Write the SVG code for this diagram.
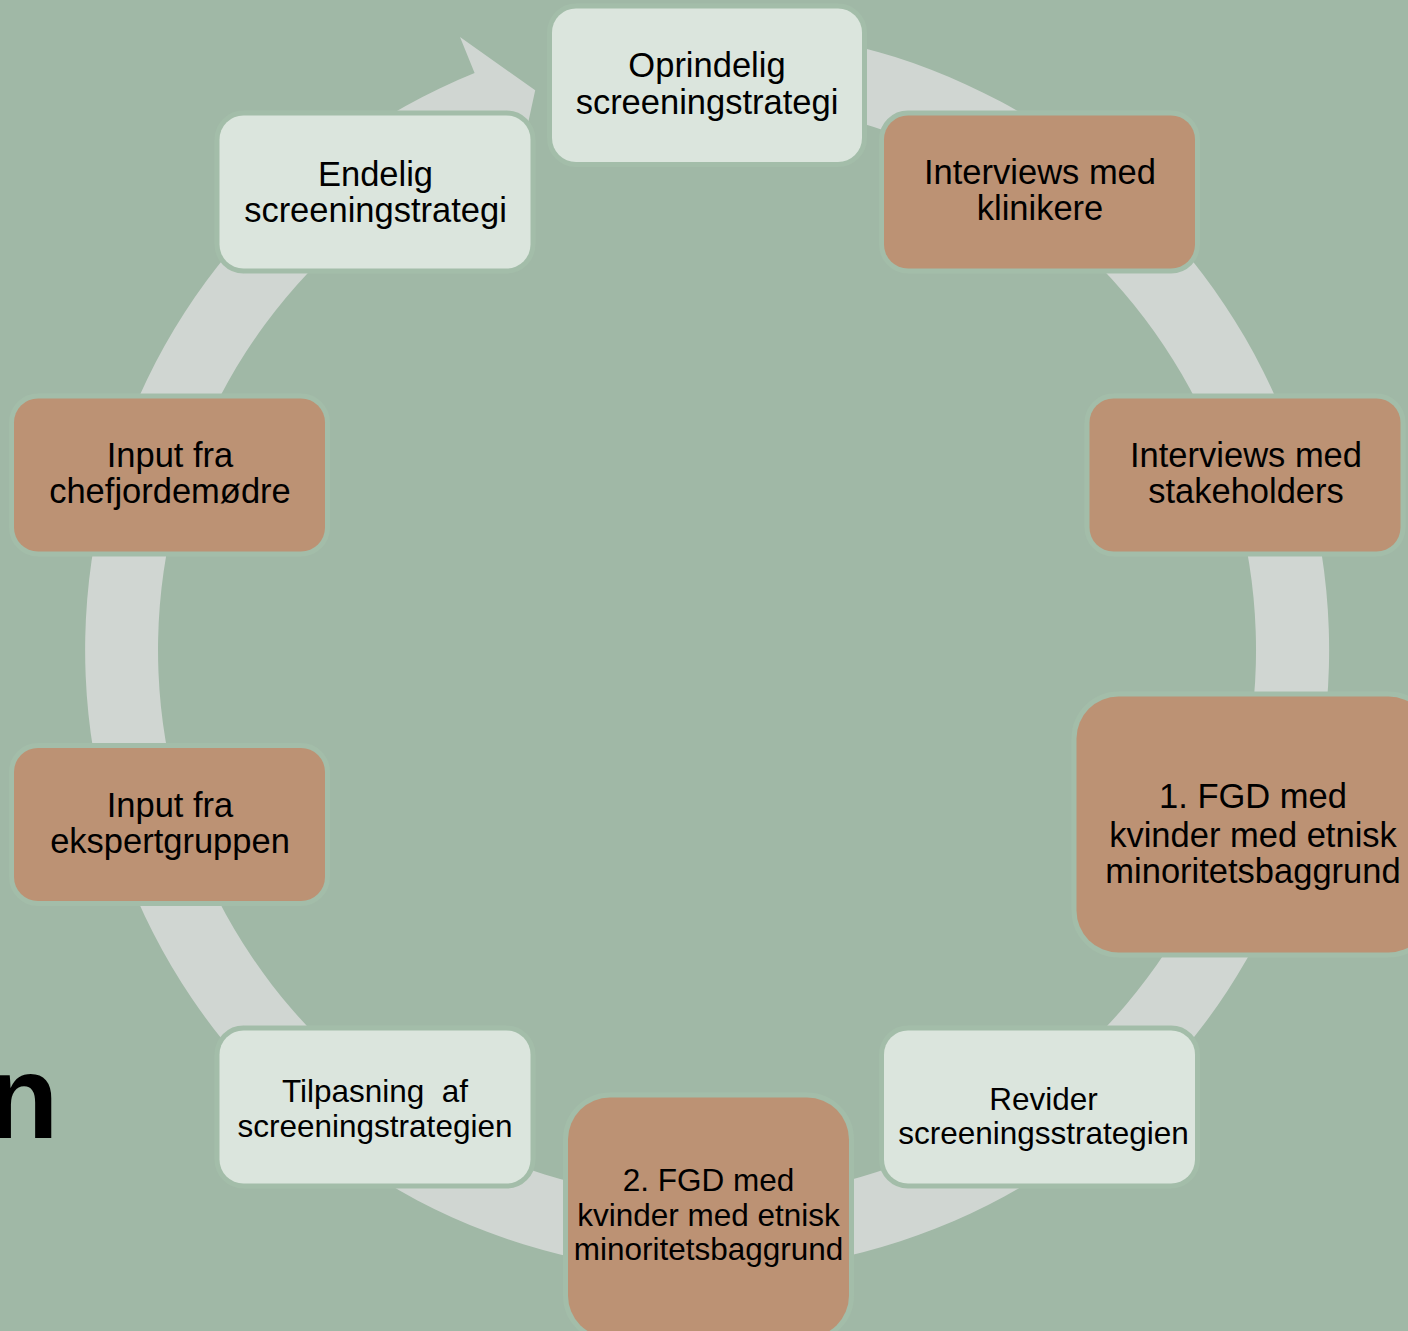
<svg xmlns="http://www.w3.org/2000/svg" width="1408" height="1331" viewBox="0 0 1408 1331">
<style>
.node rect{stroke:#A3BDA9;stroke-width:10;paint-order:stroke}
.light rect{fill:#DBE5DD}
.brown rect{fill:#BC9274}
text{font-family:"Liberation Sans",Arial,sans-serif;fill:#000;text-anchor:middle}
.t{font-size:34.5px}
.s{font-size:31.5px}
</style>
<rect x="0" y="0" width="1408" height="1331" fill="#A0B8A6"/>
<g id="connectors">
<path d="M 707 28 A 622 622 0 1 1 474.6 73.1 L 460 36.9 L 535.2 90.3 L 516.4 177 L 501.8 140.8 A 549 549 0 1 0 707 101 Z" fill="#D0D6D2"/>
</g>
<text x="58.5" y="1138" style="font-size:118px;font-weight:bold;text-anchor:end">n</text>
<g id="n1" class="node light">
<rect x="552" y="8.5" width="310" height="153.5" rx="24"/>
<text class="t" x="707" y="77">Oprindelig</text>
<text class="t" x="707" y="113.5">screeningstrategi</text>
</g>
<g id="n2" class="node brown">
<rect x="884" y="115.5" width="311" height="153" rx="24"/>
<text class="t" x="1040" y="183.5">Interviews med</text>
<text class="t" x="1040" y="220">klinikere</text>
</g>
<g id="n3" class="node brown">
<rect x="1089.5" y="398.5" width="311" height="153" rx="24"/>
<text class="t" x="1246" y="467">Interviews med</text>
<text class="t" x="1246" y="503">stakeholders</text>
</g>
<g id="n4" class="node brown">
<rect x="1076.5" y="696.5" width="354" height="256" rx="42"/>
<text class="t" x="1253" y="808">1. FGD med</text>
<text class="t" x="1253" y="846.5">kvinder med etnisk</text>
<text class="t" x="1253" y="882.5">minoritetsbaggrund</text>
</g>
<g id="n5" class="node light">
<rect x="884" y="1030.5" width="311" height="153" rx="24"/>
<text class="s" x="1043.5" y="1109.5">Revider</text>
<text class="s" x="1043.5" y="1143.5">screeningsstrategien</text>
</g>
<g id="n6" class="node brown">
<rect x="568" y="1097.5" width="281" height="240" rx="42"/>
<text class="s" x="708.5" y="1191">2. FGD med</text>
<text class="s" x="708.5" y="1226">kvinder med etnisk</text>
<text class="s" x="708.5" y="1260">minoritetsbaggrund</text>
</g>
<g id="n7" class="node light">
<rect x="219.5" y="1030.5" width="311" height="153" rx="24"/>
<text class="s" x="375" y="1101.5" xml:space="preserve">Tilpasning  af</text>
<text class="s" x="375" y="1136.5">screeningstrategien</text>
</g>
<g id="n8" class="node brown">
<rect x="14" y="748" width="311" height="153" rx="24"/>
<text class="t" x="170" y="817">Input fra</text>
<text class="t" x="170" y="852.5">ekspertgruppen</text>
</g>
<g id="n9" class="node brown">
<rect x="14" y="398.5" width="311" height="153" rx="24"/>
<text class="t" x="170" y="467">Input fra</text>
<text class="t" x="170" y="503">chefjordemødre</text>
</g>
<g id="n10" class="node light">
<rect x="219.5" y="115.5" width="311" height="153" rx="24"/>
<text class="t" x="375.5" y="185.5">Endelig</text>
<text class="t" x="375.5" y="221.5">screeningstrategi</text>
</g>
</svg>
